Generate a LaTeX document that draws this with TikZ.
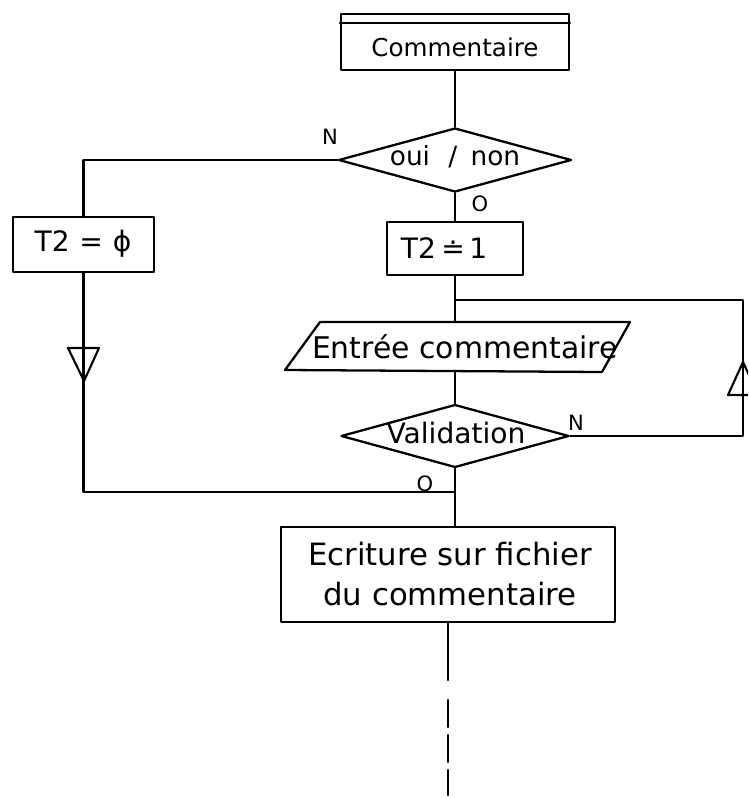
\documentclass[tikz,border=0pt]{standalone}
\usepackage{fontspec}
\setmainfont{DejaVu Sans}
\usetikzlibrary{shapes.geometric}
\begin{document}
\begin{tikzpicture}[x=0.02cm,y=-0.02cm,
  line width=1.3pt, line cap=round, line join=round,
  box/.style={draw, rectangle, inner sep=0pt},
  dia/.style={draw, diamond, inner sep=0pt},
  txt/.style={inner sep=0pt, align=center, font=\fontsize{#1}{23}\selectfont},
  tag/.style={inner sep=1pt, font=\fontsize{12}{14}\selectfont},
  tri/.style={line width=1.2pt},
]
\useasboundingbox (0,0) rectangle (748,798);
\clip (0,0) rectangle (748,798);

% --- process boxes and decisions
\node[box, minimum width=4.56cm, minimum height=1.12cm] (comm) at (455,42) {};
\draw ([yshift=-0.2cm]comm.north west) -- ([yshift=-0.2cm]comm.north east);
\node[txt=14] (commtxt) at (455,47) {Commentaire};

\node[dia, minimum width=4.66cm, minimum height=1.28cm] (d1) at (455,160) {};
\node[txt=15] (d1txt) at (455,157) {oui\hspace{0.7em}/\hspace{0.5em}non};

\node[box, minimum width=2.82cm, minimum height=1.1cm] (t2a) at (83.5,244.5) {};
\node[txt=16] (t2atxt) at (83,244) {T2\hspace{0.35em}=\hspace{0.35em}ϕ};

\node[box, minimum width=2.72cm, minimum height=1.06cm] (t2b) at (455,248.5) {};
\node[txt=16] (t2btxt) at (444,248) {T2\hspace{0.2em}≐\hspace{0.15em}1};

% input parallelogram
\coordinate (inTL) at (320,322);
\coordinate (inTR) at (630,322);
\coordinate (inBR) at (602,372);
\coordinate (inBL) at (285,370);
\draw (inTL) -- (inTR) -- (inBR) -- (inBL) -- cycle;
\coordinate (inTop) at (455,322);
\coordinate (inBot) at (455,371);
\node[txt=17] (intxt) at (465,347) {Entrée commentaire};

\node[dia, minimum width=4.56cm, minimum height=1.26cm] (v) at (455,436) {};
\node[txt=16] (vtxt) at (456,433) {Validation};

\node[box, minimum width=6.68cm, minimum height=1.9cm] (ecr) at (448,574.5) {};
\node[txt=17.5] (ecrtxt) at (450,574) {Ecriture sur fichier\\du commentaire};

% --- connectors
\draw (comm.south) -- (d1.north);
\draw (d1.west) -| (t2a.north);
\node[tag] (labN1) at (330,137) {N};
\draw (d1.south) -- (t2b.north);
\node[tag] (labO1) at (480,204) {O};

\coordinate (j1) at (455,300);
\draw (t2b.south) -- (inTop);
\draw (inBot) -- (v.north);

% retry loop on the right
\coordinate (loopTop) at (743,300);
\draw (v.east) -- (v.east -| loopTop) -- (loopTop) -- (j1);
\node[tag] (labN2) at (576,423) {N};
\draw[tri] (728,395) -- (758,395) -- (743,362) -- cycle;

% merge at the bottom
\coordinate (j2) at (455,492);
\draw (t2a.south) |- (j2);
\draw[tri] (68,348) -- (99,348) -- (84,381) -- cycle;
\draw (v.south) -- (v.south |- ecr.north);
\node[tag] (labO2) at (425,484) {O};

% continuation below
\coordinate (tail) at (448,680);
\draw (ecr.south) -- (tail);
\draw[dash pattern=on 0.54cm off 0.16cm] (448,700) -- (448,795);
\end{tikzpicture}
\end{document}
